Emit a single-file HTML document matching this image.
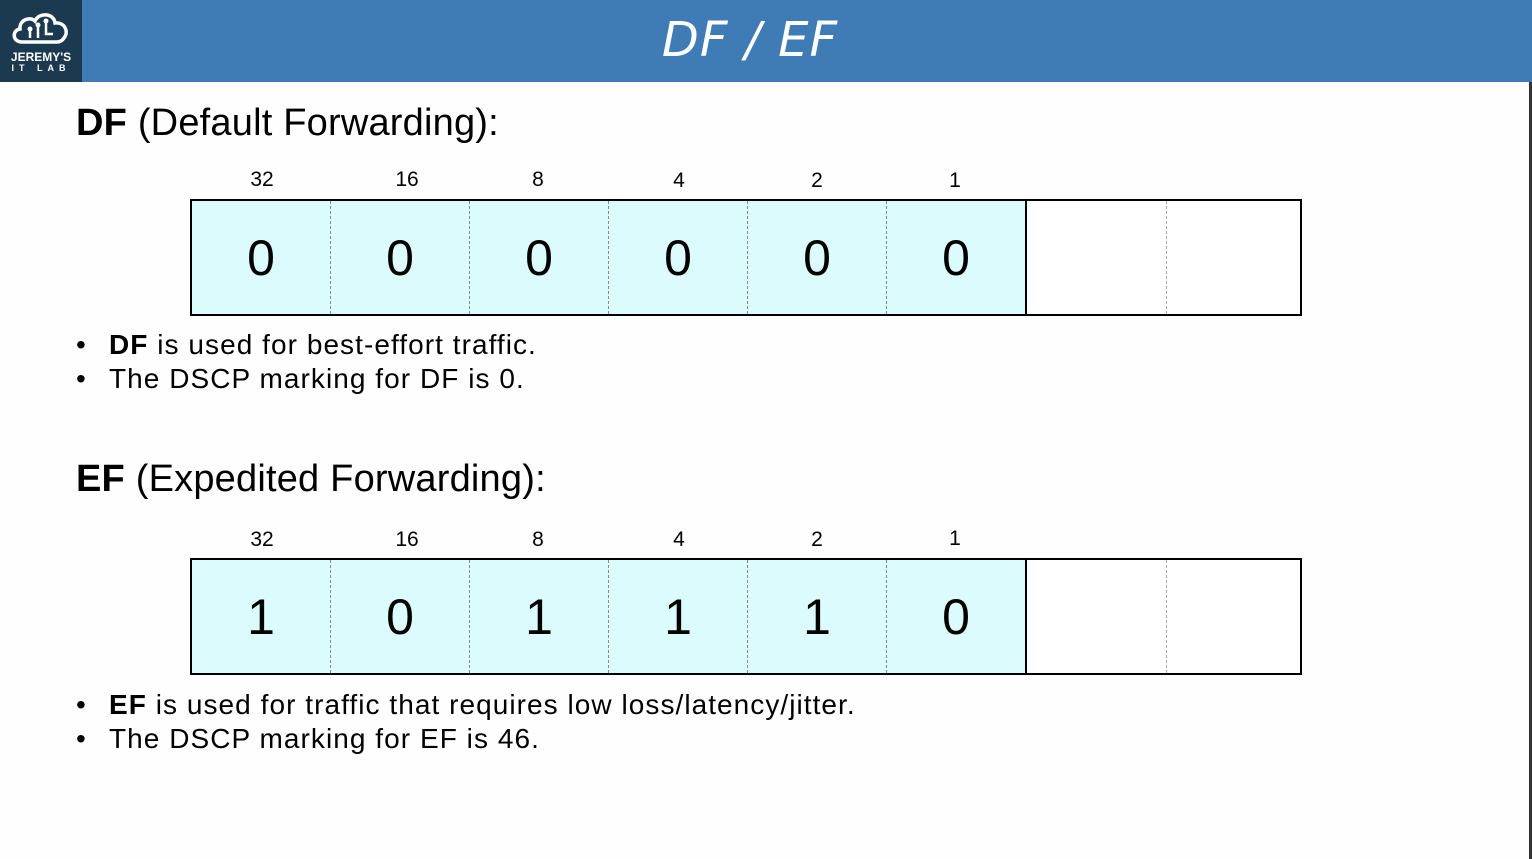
<!DOCTYPE html>
<html><head><meta charset="utf-8"><style>
body{margin:0;width:1532px;height:859px;background:#fefefe;position:relative;overflow:hidden;font-family:"Liberation Sans",sans-serif;color:#000}
.hdr{position:absolute;left:0;top:0;width:1532px;height:82px;background:#3f7bb5}
.logo{position:absolute;left:0;top:0;width:82px;height:82px;background:#1b3a50;color:#fff;text-align:center}
.title{position:absolute;left:0;width:1500px;top:12px;text-align:center;color:#fff;font-size:48px;font-style:italic;font-family:"DejaVu Sans",sans-serif;letter-spacing:1px}
.rline{position:absolute;left:1529px;top:82px;width:3px;height:777px;background:#333}
.h{position:absolute;left:76px;font-size:38px;letter-spacing:0.2px}
.tbl{position:absolute;left:190px;width:1108px;height:113px;border:2px solid #000;background:#fff}
.cell{position:absolute;top:0;height:113px;width:139px;background:#dbfbfd;border-right:1px dashed #888;font-size:50px;text-align:center;line-height:115px;box-sizing:border-box}
.lbl{position:absolute;font-size:21px;width:40px;text-align:center}
.b{position:absolute;left:76px;font-size:28px;line-height:34px;letter-spacing:1.05px}
.b div{padding-left:33px;position:relative}
.b div:before{content:"•";position:absolute;left:0}
</style></head><body>
<div class="hdr"></div>
<div class="logo">
<svg width="66" height="40" viewBox="0 0 66 40" style="margin-top:8px"><path d="M14 34 C4 34 4 22 12 21 C11 12 22 8 27 13 C31 4 46 5 47 15 C57 14 61 24 56 30 C54 33 52 34 49 34 Z" fill="none" stroke="#fff" stroke-width="3.5"/><path d="M22 30 V22 M30 18 V30 M38 14 V26 H45" stroke="#fff" stroke-width="2.5" fill="none"/><circle cx="22" cy="21" r="2.5" fill="#fff"/><circle cx="30" cy="17" r="2.5" fill="#fff"/><circle cx="38" cy="13" r="2.5" fill="#fff"/></svg>
<div style="font-size:12px;font-weight:bold;margin-top:-2px;line-height:12px">JEREMY'S</div>
<div style="font-size:9px;letter-spacing:5px;line-height:10px;font-weight:bold">IT LAB</div>
</div>
<div class="title">DF / EF</div>
<div class="rline"></div>

<div class="h" style="top:102px"><b>DF</b> (Default Forwarding):</div>
<div class="lbl" style="left:242px;top:168px">32</div>
<div class="lbl" style="left:387px;top:168px">16</div>
<div class="lbl" style="left:518px;top:168px">8</div>
<div class="lbl" style="left:659px;top:169px">4</div>
<div class="lbl" style="left:797px;top:169px">2</div>
<div class="lbl" style="left:935px;top:169px">1</div>
<div class="tbl" style="top:199px">
<div class="cell" style="left:0">0</div><div class="cell" style="left:139px">0</div><div class="cell" style="left:278px">0</div><div class="cell" style="left:417px">0</div><div class="cell" style="left:556px">0</div><div class="cell" style="left:695px;border-right:2px solid #000;width:140px">0</div>
<div style="position:absolute;left:974px;top:0;height:113px;border-left:1px dashed #aaa"></div>
</div>
<div class="b" style="top:328px"><div><b>DF</b> is used for best-effort traffic.</div><div>The DSCP marking for DF is 0.</div></div>

<div class="h" style="top:458px"><b>EF</b> (Expedited Forwarding):</div>
<div class="lbl" style="left:242px;top:528px">32</div>
<div class="lbl" style="left:387px;top:528px">16</div>
<div class="lbl" style="left:518px;top:528px">8</div>
<div class="lbl" style="left:659px;top:528px">4</div>
<div class="lbl" style="left:797px;top:528px">2</div>
<div class="lbl" style="left:935px;top:527px">1</div>
<div class="tbl" style="top:558px">
<div class="cell" style="left:0">1</div><div class="cell" style="left:139px">0</div><div class="cell" style="left:278px">1</div><div class="cell" style="left:417px">1</div><div class="cell" style="left:556px">1</div><div class="cell" style="left:695px;border-right:2px solid #000;width:140px">0</div>
<div style="position:absolute;left:974px;top:0;height:113px;border-left:1px dashed #aaa"></div>
</div>
<div class="b" style="top:688px"><div><b>EF</b> is used for traffic that requires low loss/latency/jitter.</div><div>The DSCP marking for EF is 46.</div></div>
</body></html>
